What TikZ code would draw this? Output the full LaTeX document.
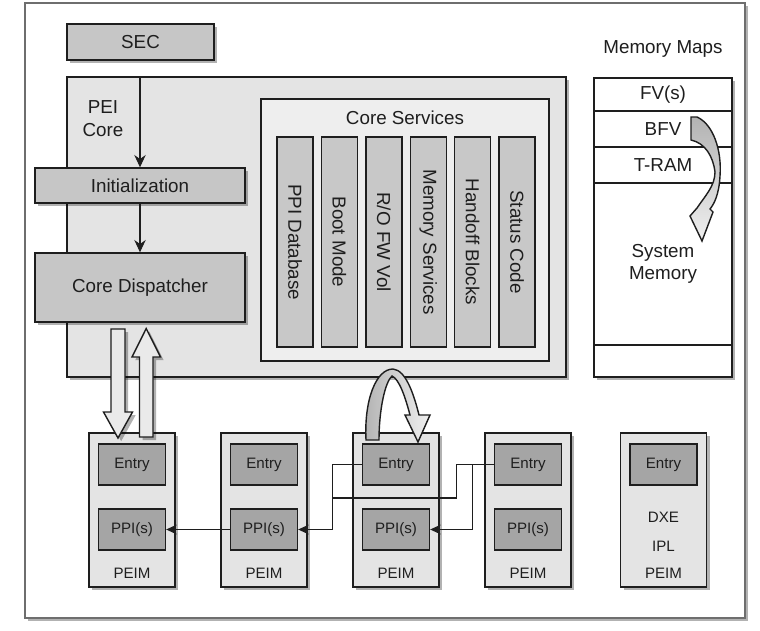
\documentclass[tikz,border=0pt]{standalone}
\usepackage{fontspec}
\setmainfont{Liberation Sans}
\usepackage{tikz}
\usetikzlibrary{arrows.meta,positioning,shadows,calc}
\definecolor{framegray}{RGB}{110,110,110}
\definecolor{peifill}{RGB}{228,228,228}
\definecolor{svcfill}{RGB}{238,238,238}
\definecolor{colfill}{RGB}{200,200,200}
\definecolor{midfill}{RGB}{198,198,198}
\definecolor{entryfill}{RGB}{165,165,165}
\definecolor{arrowfill}{RGB}{234,234,234}
\definecolor{inkgray}{RGB}{30,30,30}

\begin{document}
\begin{tikzpicture}[x=0.02cm,y=-0.02cm,
    font=\fontsize{10.7}{12.8}\selectfont,text=inkgray,
    box/.style={draw=inkgray,line width=0.8pt,inner sep=0pt},
    shade/.style={drop shadow={shadow xshift=1.8pt,shadow yshift=-1.8pt,
        opacity=0.3,fill=black}},
    midbox/.style={box,shade,fill=midfill},
    svccol/.style={box,fill=colfill,rotate=-90,
        minimum width=4.2cm,minimum height=0.72cm},
    peimbox/.style={box,shade,fill=peifill,
        minimum width=1.72cm,minimum height=3.08cm},
    slot/.style={box,fill=entryfill,font=\fontsize{8.6}{10}\selectfont,
        minimum width=1.34cm,minimum height=0.82cm},
    small/.style={font=\fontsize{8.6}{10}\selectfont},
    memrow/.style={box,fill=white,minimum width=2.76cm,align=center},
    link/.style={draw=inkgray,line width=0.6pt},
    tip/.style={-{Stealth[length=6pt,width=5.5pt]}},
    bigtip/.style={-{Stealth[length=7pt,width=6.5pt]}},
    fatarrow/.style={draw=inkgray,line width=0.8pt,fill=arrowfill,shade},
    twist/.style={draw=inkgray,line width=0.8pt,left color=black!30,
        right color=black!6}]
  \useasboundingbox (0,0) rectangle (760,630);

  %% outer frame
  \node[draw=framegray,line width=1pt,fill=white,shade,inner sep=0pt,
        minimum width=14.4cm,minimum height=12.3cm]
        (frame) at (385,310.5) {};

  %% SEC and PEI core
  \node[midbox,minimum width=2.94cm,minimum height=0.72cm]
        (sec) at (140.5,42) {SEC};
  \node[box,shade,fill=peifill,minimum width=9.98cm,minimum height=6cm]
        (pei) at (316.5,227) {};
  \node[align=center] (peilabel) at (103,118.5) {PEI\\Core};

  %% core services
  \node[box,fill=svcfill,minimum width=5.76cm,minimum height=5.24cm]
        (svc) at (405,230) {};
  \node (svclabel) at (405,118) {Core Services};
  \foreach \txt [count=\i from 0] in {PPI Database,Boot Mode,R/O FW Vol,
      Memory Services,Handoff Blocks,Status Code}
    \node[svccol] (col\i) at (295+44.4*\i,242) {\txt};

  %% initialization and dispatcher
  \node[midbox,minimum width=4.2cm,minimum height=0.7cm]
        (init) at (140,185.5) {Initialization};
  \node[midbox,minimum width=4.2cm,minimum height=1.38cm]
        (disp) at (140,287.5) {Core Dispatcher};
  \draw[link,bigtip] (init.north |- pei.north) -- (init.north);
  \draw[link,bigtip] (init) -- (disp);

  %% memory maps
  \node (mmlabel) at (663,49) {Memory Maps};
  \node[box,shade,fill=white,minimum width=2.76cm,minimum height=5.98cm]
        (mm) at (663,227.5) {};
  \node[memrow,minimum height=0.66cm] (fv) at (663,94.5) {FV(s)};
  \node[memrow,minimum height=0.72cm] (bfv) at (663,129) {BFV};
  \node[memrow,minimum height=0.72cm] (tram) at (663,165) {T-RAM};
  \node[memrow,minimum height=3.24cm] (sysmem) at (663,264) {System\\Memory};
  \node[memrow,minimum height=0.64cm] (spare) at (663,361) {};
  \draw[twist,top color=black!30,bottom color=black!6]
    (691,117) -- (697,117) .. controls (713,124) and (722,150) .. (720,176)
    .. controls (719,195) and (714,204) .. (710,209) -- (713,212)
    -- (702,241) -- (690,216) -- (697,208)
    .. controls (705,196) and (715,186) .. (715,172)
    .. controls (713,156) and (705,143) .. (691,140) -- cycle;

  %% PEIMs
  \foreach \i/\x in {1/132,2/264,3/396,4/528} {
    \node[peimbox] (peim\i) at (\x,510) {};
    \node[slot] (entry\i) at (\x,464.5) {Entry};
    \node[slot] (ppi\i) at (\x,529.5) {PPI(s)};
    \node[small] (name\i) at (\x,573) {PEIM};
  }
  \node[peimbox] (peim5) at (663.5,510) {};
  \node[slot] (entry5) at (663.5,464.5) {Entry};
  \node[small] (dxe) at (663.5,517) {DXE};
  \node[small] (ipl) at (663.5,546) {IPL};
  \node[small] (name5) at (663.5,573) {PEIM};

  %% PPI links
  \coordinate (join) at (333,498);
  \draw[link,tip] (ppi2.west) -- (ppi1.east);
  \draw[link,tip] (entry3.west) -- ++(-29.5,0) |- (ppi2.east);
  \draw[link,tip] (entry4.west) -- ++(-21.5,0) |- (ppi3.east);
  \draw[link] (entry4.west) -- ++(-37.5,0) |- (join);

  %% dispatcher <-> PEIM arrows
  \draw[fatarrow] (111,329) -- (125,329) -- (125,412) -- (132.5,412)
    -- (118,438) -- (103.5,412) -- (111,412) -- cycle;
  \draw[fatarrow] (139.5,437) -- (153,437) -- (153,357) -- (160.5,357)
    -- (146.2,328.5) -- (132,357) -- (139.5,357) -- cycle;
  \draw[twist]
    (366,440) .. controls (364,400) and (376,369) .. (393,369)
    .. controls (406,370) and (414,395) .. (419,415) -- (430,415)
    -- (418,442) -- (405,415) -- (410,415)
    .. controls (405,396) and (399,379) .. (392,376)
    .. controls (385,382) and (379,410) .. (379,440) -- cycle;
\end{tikzpicture}
\end{document}
